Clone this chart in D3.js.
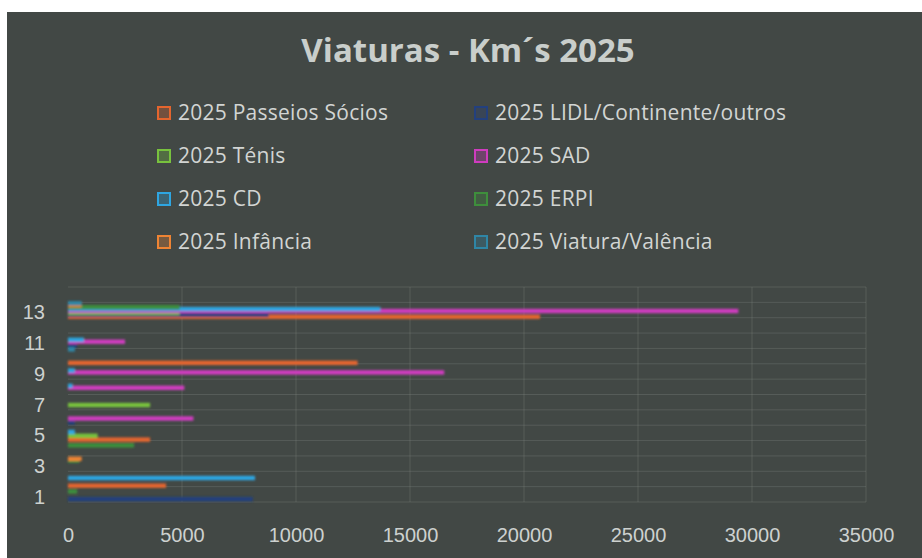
<!DOCTYPE html>
<html>
<head>
<meta charset="utf-8">
<script src="https://cdn.jsdelivr.net/npm/d3@7"></script>
<style>
	body { margin: 0; background: #ffffff; }
	svg { display: block; font-family: "Open Sans", "DejaVu Sans", sans-serif; }
</style>
</head>
<body>
<div id="chart"></div>
<script>
var categories = [1, 2, 3, 4, 5, 6, 7, 8, 9, 10, 11, 12, 13, 14];
var yTickLabels = [1, 3, 5, 7, 9, 11, 13];
var xTickValues = [0, 5000, 10000, 15000, 20000, 25000, 30000, 35000];

var seriesNames = ["2025 Passeios Sócios", "2025 LIDL/Continente/outros", "2025 Ténis", "2025 SAD",
	"2025 CD", "2025 ERPI", "2025 Infância", "2025 Viatura/Valência"];

var passeiosSocios = [0, 4300, 0, 0, 3600, 0, 0, 0, 0, 12700, 0, 0, 20700, 0];
var lidlContinente = [8100, 0, 0, 0, 0, 300, 0, 0, 0, 0, 400, 0, 8800, 0];
var tenis = [0, 0, 0, 0, 1300, 0, 3600, 0, 0, 0, 0, 0, 4900, 0];
var sad = [0, 0, 0, 0, 0, 5500, 0, 5100, 16500, 0, 2500, 0, 29400, 0];
var cd = [0, 8200, 0, 0, 300, 0, 0, 200, 300, 0, 700, 0, 13700, 0];
var erpi = [400, 0, 500, 2900, 0, 0, 0, 0, 0, 0, 0, 0, 4900, 0];
var infancia = [0, 0, 600, 0, 0, 0, 0, 0, 0, 0, 0, 0, 600, 0];
var viaturaValencia = [0, 0, 0, 0, 0, 0, 0, 0, 0, 300, 0, 0, 600, 0];

var seriesValues = [passeiosSocios, lidlContinente, tenis, sad, cd, erpi, infancia, viaturaValencia];
var seriesColors = ["#e4652e", "#23407e", "#78c23e", "#cf3cbf", "#2ea6e2", "#3e8e3c", "#ee8434", "#2f86a6"];

var width = 922, height = 558;

var svg = d3.select("#chart").append("svg")
	.attr("width", width)
	.attr("height", height);

var defs = svg.append("defs");
defs.append("filter").attr("id", "soft")
	.attr("x", "-5%").attr("y", "-200%").attr("width", "110%").attr("height", "500%")
	.append("feGaussianBlur").attr("stdDeviation", 0.9);

// dark chart area, scanned page leaves a white margin top/left
svg.append("rect")
	.attr("x", 7).attr("y", 12)
	.attr("width", width - 7).attr("height", height - 12)
	.attr("fill", "#424845");

svg.append("text")
	.attr("x", 468).attr("y", 62)
	.attr("text-anchor", "middle")
	.attr("font-size", 33).attr("font-weight", "bold")
	.attr("fill", "#c9cecb")
	.text("Viaturas - Km´s 2025");

// legend, two columns
var legend = svg.append("g");
var legendItems = legend.selectAll("g.item").data(seriesNames).enter().append("g")
	.attr("class", "item")
	.attr("transform", function(d, i) {
		var col = i % 2, row = Math.floor(i / 2);
		return "translate(" + (col === 0 ? 158 : 475) + "," + (113 + row * 43) + ")";
	});
legendItems.append("rect")
	.attr("x", 0).attr("y", -6).attr("width", 12).attr("height", 12)
	.attr("fill", function(d, i) { return seriesColors[i]; })
	.attr("fill-opacity", 0.3)
	.attr("stroke", function(d, i) { return seriesColors[i]; })
	.attr("stroke-width", 2);
legendItems.append("text")
	.attr("x", 20).attr("y", 0)
	.attr("dy", "0.35em")
	.attr("font-size", 21)
	.attr("letter-spacing", 0.25)
	.attr("fill", "#d2d5d3")
	.text(function(d) { return d; });

var plot = { left: 68, right: 866, top: 287, bottom: 502 };

var x = d3.scaleLinear().domain([0, 35000]).range([plot.left, plot.right]);
var y = d3.scaleBand().domain(categories).range([plot.bottom, plot.top]).padding(0);
var ySeries = d3.scaleBand().domain(d3.range(seriesNames.length)).range([y.bandwidth(), 0]).padding(0);
// series overlap: each bar drawn wider than its slot
var barHeight = ySeries.bandwidth() * 2.3;

var grid = svg.append("g").attr("stroke", "#858b88").attr("stroke-opacity", 0.3).attr("stroke-width", 1);
grid.selectAll("line.v").data(xTickValues.slice(1)).enter().append("line")
	.attr("class", "v")
	.attr("x1", function(d) { return x(d); }).attr("x2", function(d) { return x(d); })
	.attr("y1", plot.top).attr("y2", plot.bottom);
grid.selectAll("line.h").data(d3.range(categories.length + 1)).enter().append("line")
	.attr("class", "h")
	.attr("x1", plot.left).attr("x2", plot.right)
	.attr("y1", function(d) { return plot.bottom - d * y.step(); })
	.attr("y2", function(d) { return plot.bottom - d * y.step(); });

var bars = svg.append("g").attr("filter", "url(#soft)");
var groups = bars.selectAll("g.series").data(seriesValues).enter().append("g")
	.attr("class", "series")
	.attr("fill", function(d, i) { return seriesColors[i]; });
groups.each(function(values, s) {
	d3.select(this).selectAll("rect").data(values).enter().append("rect")
		.attr("x", x(0))
		.attr("y", function(v, c) { return y(categories[c]) + ySeries(s) + ySeries.bandwidth() / 2 - barHeight / 2; })
		.attr("width", function(v) { return x(v) - x(0); })
		.attr("height", barHeight);
});

var xAxis = svg.append("g")
	.attr("transform", "translate(0," + plot.bottom + ")")
	.call(d3.axisBottom(x).tickValues(xTickValues).tickSize(0).tickPadding(26).tickFormat(d3.format("d")));
xAxis.select(".domain").remove();
xAxis.selectAll("text").attr("font-size", 20).attr("fill", "#cdd1cf").attr("font-family", null);

var yAxis = svg.append("g")
	.attr("transform", "translate(" + plot.left + ",3)")
	.call(d3.axisLeft(y).tickValues(yTickLabels).tickSize(0).tickPadding(23));
yAxis.select(".domain").remove();
yAxis.selectAll("text").attr("font-size", 20).attr("fill", "#cdd1cf").attr("font-family", null);
</script>
</body>
</html>
